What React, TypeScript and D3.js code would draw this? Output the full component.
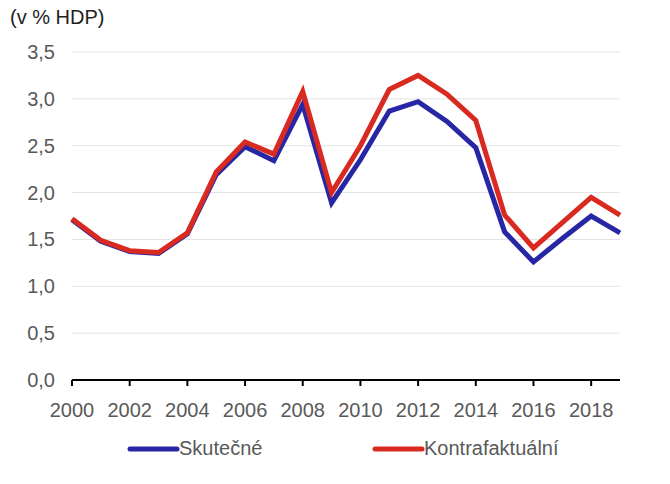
import React from "react";
import * as d3 from "d3";

const years = [2000, 2001, 2002, 2003, 2004, 2005, 2006, 2007, 2008, 2009, 2010, 2011, 2012, 2013, 2014, 2015, 2016, 2017, 2018, 2019];
const skutecne = [1.71, 1.48, 1.37, 1.35, 1.56, 2.19, 2.49, 2.34, 2.94, 1.89, 2.35, 2.87, 2.97, 2.76, 2.48, 1.58, 1.26, 1.51, 1.75, 1.57];
const kontrafaktualni = [1.72, 1.49, 1.38, 1.36, 1.57, 2.22, 2.54, 2.41, 3.08, 2.0, 2.5, 3.1, 3.25, 3.05, 2.77, 1.76, 1.41, 1.68, 1.95, 1.76];
const yTicks = [0, 0.5, 1.0, 1.5, 2.0, 2.5, 3.0, 3.5];
const xTicks = [2000, 2002, 2004, 2006, 2008, 2010, 2012, 2014, 2016, 2018];
const seriesNames = ["Skutečné", "Kontrafaktuální"];
const colors = ["#2727a5", "#d92a22"];

export default function App() {
  const W = 670, H = 484;
  const left = 72, right = 620, top = 52, bottom = 380;
  const x = d3.scaleLinear().domain([2000, 2019]).range([left, right]);
  const y = d3.scaleLinear().domain([0, 3.5]).range([bottom, top]);
  const line = d3.line<number>().x((_, i) => x(years[i])).y((d) => y(d));
  const fmt = (v: number) => v.toFixed(1).replace(".", ",");
  const font = "'Liberation Sans', Arial, sans-serif";
  const data = [skutecne, kontrafaktualni];
  const legendX = [130, 375];

  return (
    <svg width={W} height={H} style={{ position: "absolute", left: 0, top: 0 }} fontFamily={font}>
      <rect width={W} height={H} fill="#fff" />
      <text x={10} y={24} fontSize={20} fill="#222">(v % HDP)</text>
      {yTicks.map((t) => (
        <g key={t}>
          {t > 0 && <line x1={left} x2={right} y1={y(t)} y2={y(t)} stroke="#e3e3e3" strokeWidth={1} />}
          <text x={55} y={y(t) + 7} fontSize={20} fill="#595959" textAnchor="end">{fmt(t)}</text>
        </g>
      ))}
      {data.map((s, i) => (
        <path key={i} d={line(s) || ""} fill="none" stroke={colors[i]} strokeWidth={5} strokeLinejoin="miter" />
      ))}
      <line x1={left} x2={right} y1={bottom} y2={bottom} stroke="#000" strokeWidth={2} />
      {xTicks.map((t) => (
        <g key={t}>
          <line x1={x(t)} x2={x(t)} y1={bottom} y2={bottom + 6} stroke="#000" strokeWidth={2} />
          <text x={x(t)} y={417} fontSize={20} fill="#595959" textAnchor="middle">{t}</text>
        </g>
      ))}
      {seriesNames.map((n, i) => (
        <g key={n}>
          <line x1={legendX[i]} x2={legendX[i] + 47} y1={449} y2={449} stroke={colors[i]} strokeWidth={5} strokeLinecap="round" />
          <text x={legendX[i] + 49} y={455} fontSize={20} fill="#595959">{n}</text>
        </g>
      ))}
    </svg>
  );
}
